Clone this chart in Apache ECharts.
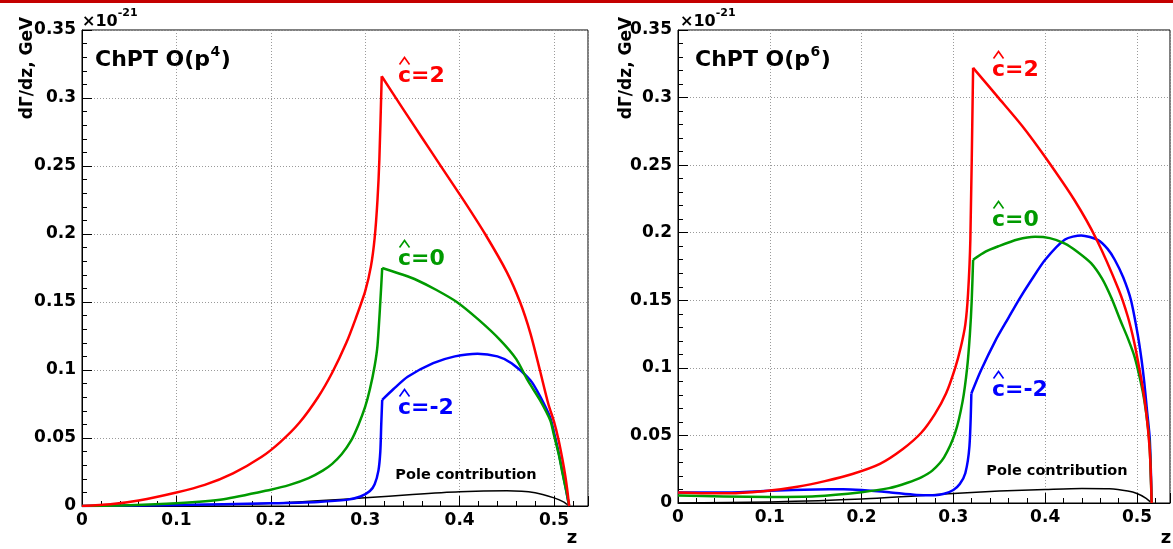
<!DOCTYPE html>
<html><head><meta charset="utf-8">
<script src="https://cdn.jsdelivr.net/npm/echarts@6/dist/echarts.min.js"></script>
<style>html,body{margin:0;padding:0;background:#fff}#c{width:1173px;height:549px}</style>
</head><body><div id="c"></div>
<script>
// ---------------- DATA ----------------
// Panel 1: ChPT O(p^4)
const p4RedZ   = [0, 0.03, 0.06, 0.1, 0.13, 0.16, 0.19, 0.21, 0.23, 0.25, 0.265, 0.28, 0.29, 0.3, 0.306, 0.31, 0.313, 0.315, 0.3175, 0.34, 0.36, 0.381, 0.405, 0.427, 0.45, 0.464, 0.475, 0.485, 0.494, 0.5, 0.505, 0.509, 0.512, 0.514, 0.516];
const p4RedV   = [0, 0.0012, 0.004, 0.0099, 0.0155, 0.024, 0.036, 0.047, 0.061, 0.08, 0.098, 0.12, 0.138, 0.158, 0.176, 0.197, 0.225, 0.255, 0.316, 0.292, 0.271, 0.249, 0.224, 0.2, 0.172, 0.15, 0.127, 0.1, 0.075, 0.062, 0.048, 0.034, 0.022, 0.012, 0];
const p4GreenZ = [0, 0.05, 0.1, 0.15, 0.2, 0.22, 0.24, 0.255, 0.265, 0.275, 0.285, 0.293, 0.3, 0.305, 0.31, 0.313, 0.316, 0.318, 0.34, 0.355, 0.375, 0.397, 0.42, 0.443, 0.46, 0.472, 0.485, 0.496, 0.5, 0.505, 0.509, 0.513, 0.516];
const p4GreenV = [0, 0.0005, 0.002, 0.005, 0.012, 0.0155, 0.0205, 0.026, 0.031, 0.038, 0.048, 0.06, 0.073, 0.086, 0.103, 0.118, 0.15, 0.175, 0.17, 0.166, 0.159, 0.15, 0.137, 0.122, 0.108, 0.0925, 0.078, 0.063, 0.052, 0.038, 0.024, 0.011, 0];
const p4BlueZ  = [0, 0.1, 0.2, 0.25, 0.28, 0.295, 0.305, 0.31, 0.314, 0.316, 0.317, 0.318, 0.33, 0.345, 0.372, 0.395, 0.419, 0.44, 0.455, 0.475, 0.485, 0.496, 0.5, 0.505, 0.509, 0.513, 0.516];
const p4BlueV  = [0, 0.0008, 0.002, 0.003, 0.0045, 0.007, 0.011, 0.016, 0.026, 0.04, 0.06, 0.078, 0.086, 0.095, 0.105, 0.110, 0.112, 0.110, 0.105, 0.0925, 0.081, 0.065, 0.054, 0.039, 0.025, 0.011, 0];
const p4PoleZ  = [0, 0.1, 0.2, 0.3, 0.35, 0.4, 0.45, 0.48, 0.5, 0.51, 0.516];
const p4PoleV  = [0, 0.0006, 0.002, 0.006, 0.0085, 0.0105, 0.0112, 0.0098, 0.006, 0.003, 0];
const p4Corners = [0.3175, 0.318, 0.318];   // z of the sharp corner in red, green, blue

// Panel 2: ChPT O(p^6)
const p6RedZ   = [0, 0.03, 0.06, 0.1, 0.13, 0.16, 0.19, 0.22, 0.245, 0.265, 0.28, 0.292, 0.302, 0.308, 0.313, 0.316, 0.3185, 0.3215, 0.349, 0.375, 0.40, 0.432, 0.456, 0.48, 0.49, 0.497, 0.503, 0.508, 0.512, 0.5145, 0.516];
const p6RedV   = [0.0078, 0.0072, 0.0072, 0.0092, 0.012, 0.0162, 0.0215, 0.029, 0.04, 0.052, 0.066, 0.081, 0.1, 0.115, 0.132, 0.155, 0.195, 0.322, 0.30, 0.279, 0.256, 0.224, 0.195, 0.158, 0.138, 0.119, 0.098, 0.078, 0.055, 0.032, 0];
const p6GreenZ = [0, 0.05, 0.1, 0.15, 0.2, 0.23, 0.25, 0.265, 0.277, 0.29, 0.302, 0.31, 0.315, 0.318, 0.32, 0.3215, 0.335, 0.349, 0.37, 0.389, 0.405, 0.4216, 0.435, 0.45, 0.462, 0.472, 0.482, 0.49, 0.4975, 0.504, 0.508, 0.512, 0.514, 0.516];
const p6GreenV = [0.0055, 0.0048, 0.0045, 0.005, 0.008, 0.011, 0.015, 0.019, 0.024, 0.034, 0.052, 0.075, 0.10, 0.125, 0.15, 0.18, 0.186, 0.19, 0.195, 0.197, 0.196, 0.192, 0.186, 0.1775, 0.166, 0.152, 0.135, 0.122, 0.108, 0.09, 0.076, 0.056, 0.04, 0];
const p6BlueZ  = [0, 0.05, 0.1, 0.15, 0.18, 0.2, 0.23, 0.26, 0.28, 0.29, 0.3, 0.307, 0.313, 0.3175, 0.3196, 0.33, 0.3457, 0.36, 0.371, 0.385, 0.40, 0.4216, 0.4393, 0.4577, 0.468, 0.4758, 0.485, 0.4935, 0.501, 0.505, 0.508, 0.511, 0.514, 0.516];
const p6BlueV  = [0.0078, 0.0078, 0.009, 0.010, 0.0102, 0.0096, 0.008, 0.006, 0.0058, 0.0068, 0.0096, 0.014, 0.022, 0.042, 0.081, 0.098, 0.12, 0.137, 0.15, 0.165, 0.18, 0.195, 0.198, 0.1945, 0.188, 0.18, 0.167, 0.15, 0.124, 0.106, 0.089, 0.068, 0.047, 0];
const p6PoleZ  = [0, 0.1, 0.2, 0.3, 0.35, 0.4, 0.44, 0.47, 0.49, 0.5, 0.51, 0.516];
const p6PoleV  = [0, 0.0008, 0.003, 0.007, 0.0088, 0.010, 0.0108, 0.0105, 0.0088, 0.007, 0.0035, 0];
const p6Corners = [0.3215, 0.3215, 0.3196];

const panelTitles = ['ChPT O(p', 'ChPT O(p'];
const panelOrders = ['4', '6'];
const curveLabels = ['c=2', 'c=0', 'c=-2'];
const poleLabel = 'Pole contribution';
const yTitle = 'd\u0393/dz, GeV';
const xTitle = 'z';
const yMax = 0.35, yStep = 0.05, xMax = 0.536, xStep = 0.1, xMinorStep = 0.02;

// ---------------- CHART ----------------
const FONT = 'DejaVu Sans';
const RED = '#ff0000', GREEN = '#009a00', BLUE = '#0000ff', BLACK = '#000000';
const grids = [
  {left: 82, top: 30, width: 506, height: 476},
  {left: 678, top: 30, width: 494, height: 473}
];
const pairs = (z, v) => z.map((x, i) => [x, v[i]]);

const ctx = document.createElement('canvas').getContext('2d');
function tw(text, size) { ctx.font = 'bold ' + size + 'px "' + FONT + '"'; return ctx.measureText(text).width; }

function txt(x, y, text, size, fill, align, extra) {
  return Object.assign({type: 'text', x: x, y: y, z: 100, silent: true,
    style: {text: text, fontSize: size, fontWeight: 'bold', fontFamily: FONT, fill: fill || '#000',
      align: align || 'left', verticalAlign: 'middle'}}, extra || {});
}
function hat(cx, cy, color) {
  return {type: 'polyline', z: 100, silent: true,
    shape: {points: [[cx - 5, cy + 3.5], [cx, cy - 3.5], [cx + 5, cy + 3.5]]},
    style: {stroke: color, lineWidth: 1.6, fill: null}};
}
function curveLabel(x, y, text, color) {
  const cw = tw('c', 22);
  return [txt(x, y, text, 22, color), hat(x + cw / 2, y - 15, color)];
}

const xAxes = [], yAxes = [], series = [];
const gridLine = {show: true, lineStyle: {type: [1, 2], color: '#9a9a9a', width: 1}};
const xLabelFmt = v => (Math.abs(v / xStep - Math.round(v / xStep)) < 1e-6 ? String(+v.toFixed(1)) : '');
grids.forEach((g, gi) => {
  xAxes.push({type: 'value', gridIndex: gi, min: 0, max: xMax, interval: xStep, position: 'bottom',
    axisLine: {show: true, onZero: false, lineStyle: {color: '#000', width: 1}},
    axisTick: {show: true, inside: true, length: 10, lineStyle: {color: '#000'}},
    axisLabel: {formatter: xLabelFmt, fontSize: 17, fontWeight: 'bold', fontFamily: FONT, color: '#000', margin: 6},
    splitLine: gridLine});
  yAxes.push({type: 'value', gridIndex: gi, min: 0, max: yMax, interval: yStep,
    axisLine: {show: true, onZero: false, lineStyle: {color: '#000', width: 1}},
    axisTick: {show: true, inside: true, length: 10, lineStyle: {color: '#000'}},
    minorTick: {show: true, splitNumber: 5, length: 5, lineStyle: {color: '#000'}},
    axisLabel: {fontSize: 17, fontWeight: 'bold', fontFamily: FONT, color: '#000', margin: 6},
    splitLine: gridLine});
});
grids.forEach((g, gi) => {
  xAxes.push({type: 'value', gridIndex: gi, min: 0, max: xMax, interval: xMinorStep, position: 'bottom',
    axisLine: {show: false}, axisLabel: {show: false}, splitLine: {show: false},
    axisTick: {show: true, inside: true, length: 5, lineStyle: {color: '#000'}}});
});

function addSeries(gi, data, color, w) {
  series.push({type: 'line', xAxisIndex: gi, yAxisIndex: gi, data: data, showSymbol: false,
    symbol: 'none', smooth: 0.25, lineStyle: {color: color, width: w, join: 'round'},
    itemStyle: {color: color}, z: 3});
}
// a curve with a sharp corner is drawn as two smooth pieces meeting at the corner
function addCurve(gi, z, v, color, w, corner) {
  const d = pairs(z, v);
  if (corner == null) { addSeries(gi, d, color, w); return; }
  const k = z.indexOf(corner);
  addSeries(gi, d.slice(0, k + 1), color, w);
  addSeries(gi, d.slice(k), color, w);
}
addCurve(0, p4PoleZ, p4PoleV, BLACK, 1.5);
addCurve(0, p4BlueZ, p4BlueV, BLUE, 2.5, p4Corners[2]);
addCurve(0, p4GreenZ, p4GreenV, GREEN, 2.5, p4Corners[1]);
addCurve(0, p4RedZ, p4RedV, RED, 2.5, p4Corners[0]);
addCurve(1, p6PoleZ, p6PoleV, BLACK, 1.5);
addCurve(1, p6BlueZ, p6BlueV, BLUE, 2.5, p6Corners[2]);
addCurve(1, p6GreenZ, p6GreenV, GREEN, 2.5, p6Corners[1]);
addCurve(1, p6RedZ, p6RedV, RED, 2.5, p6Corners[0]);

// annotations
const graphic = [];
graphic.push({type: 'rect', shape: {x: 0, y: 0, width: 1173, height: 3}, style: {fill: '#c40000'}, z: 100, silent: true});
const panelText = [
  {ox: 82, title: 95, yt: 28, labels: [[398, 76], [398, 259], [398, 408]], pole: [466, 475], zx: 572},
  {ox: 680, title: 695, yt: 627, labels: [[992, 70], [992, 220], [992, 390]], pole: [1057, 471], zx: 1166}
];
panelText.forEach((p, i) => {
  graphic.push(txt(p.ox, 22, '\u00d710', 16, '#000'));
  graphic.push(txt(p.ox + tw('\u00d710', 16), 13, '-21', 11, '#000'));
  graphic.push(txt(p.yt, 68, yTitle, 17, '#000', 'center', {rotation: Math.PI / 2}));
  const w1 = tw(panelTitles[i], 22);
  graphic.push(txt(p.title, 60, panelTitles[i], 22, '#000'));
  graphic.push(txt(p.title + w1 + 0.5, 52, panelOrders[i], 14, '#000'));
  graphic.push(txt(p.title + w1 + 0.5 + tw(panelOrders[i], 14) + 0.5, 60, ')', 22, '#000'));
  const cols = [RED, GREEN, BLUE];
  p.labels.forEach((xy, k) => { curveLabel(xy[0], xy[1], curveLabels[k], cols[k]).forEach(e => graphic.push(e)); });
  graphic.push(txt(p.pole[0], p.pole[1], poleLabel, 14.5, '#000', 'center'));
  graphic.push(txt(p.zx, 538, xTitle, 18, '#000', 'center'));
});

const chart = echarts.init(document.getElementById('c'), null, {renderer: 'canvas'});
chart.setOption({
  animation: false,
  backgroundColor: '#fff',
  grid: grids.map(g => Object.assign({show: true, borderColor: '#000', borderWidth: 1, backgroundColor: 'transparent', containLabel: false}, g)),
  xAxis: xAxes,
  yAxis: yAxes,
  series: series,
  graphic: graphic
});
</script></body></html>
